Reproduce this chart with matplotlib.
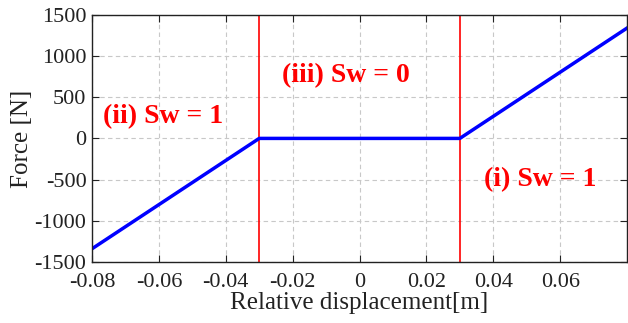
import matplotlib
matplotlib.use("Agg")
import matplotlib.pyplot as plt
from matplotlib.ticker import FuncFormatter

# data
disp = [-0.08, -0.03, 0.03, 0.08]
force = [-1340, 0, 0, 1340]
switch_x = [-0.03, 0.03]
xticks = [-0.08, -0.06, -0.04, -0.02, 0, 0.02, 0.04, 0.06]
yticks = [-1500, -1000, -500, 0, 500, 1000, 1500]
labels = ["(ii) Sw = 1", "(iii) Sw = 0", "(i) Sw = 1"]
label_pos = [(-0.0768, 260), (-0.0232, 760), (0.0373, -500)]

plt.rcParams['font.family'] = ['Liberation Serif', 'DejaVu Serif']
fig = plt.figure(figsize=(6.28, 3.23), dpi=100)
ax = fig.add_axes([0.1465, 0.189, 0.852, 0.765])

ax.grid(True, linestyle=(0, (4, 3)), color='#c8c8c8', linewidth=0.8)
ax.set_axisbelow(True)
for xv in switch_x:
    ax.axvline(xv, color='red', linewidth=1.2)
ax.plot(disp, force, color='blue', linewidth=2.5)

for t, (x, y) in zip(labels, label_pos):
    ax.text(x, y, t, color='red', fontsize=20, fontweight='bold', va='center', ha='left')

ax.set_xlim(-0.08, 0.08)
ax.set_ylim(-1500, 1500)
ax.set_xticks(xticks)
ax.set_yticks(yticks)
fmt = lambda v, p: ('%g' % v).replace('\u2212', '-')
ax.xaxis.set_major_formatter(FuncFormatter(fmt))
ax.yaxis.set_major_formatter(FuncFormatter(fmt))
ax.tick_params(direction='in', length=5, labelsize=16, top=True, right=True, colors='#222222')
ax.tick_params(axis='x', pad=8)
ax.tick_params(axis='y', pad=4)
for s in ax.spines.values():
    s.set_color('#222222')
    s.set_linewidth(1.0)
ax.set_xlabel('Relative displacement[m]', fontsize=18, color='#222222', labelpad=0)
ax.set_ylabel('Force [N]', fontsize=18, color='#222222', labelpad=1)

fig.savefig('out.png', dpi=100)
